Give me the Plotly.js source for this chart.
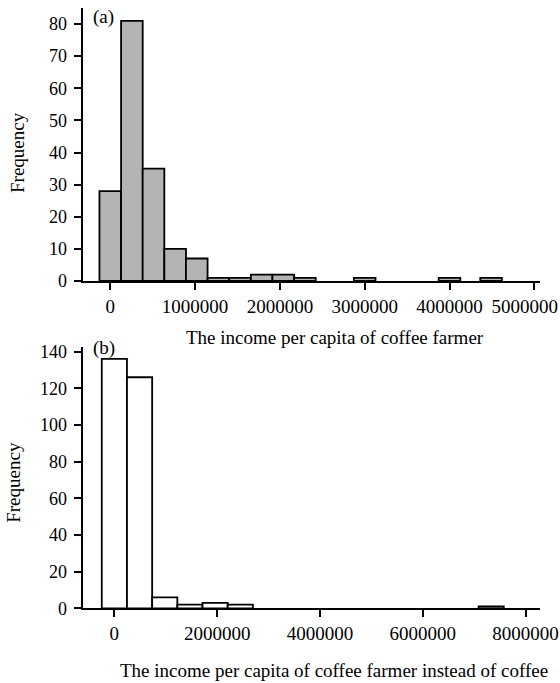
<!DOCTYPE html>
<html>
<head>
<meta charset="utf-8">
<script src="https://cdn.plot.ly/plotly-3.0.1.min.js"></script>
<style>html,body{margin:0;padding:0;background:#fff;}#chart{width:560px;height:683px;}</style>
</head>
<body>
<div id="chart"></div>
<script>
// Panel (a): income per capita of coffee farmer
const aBinCenters = [0, 255000, 510000, 765000, 1020000, 1275000, 1530000, 1785000, 2040000, 2295000, 3000000, 4000000, 4490000];
const aCounts = [28, 81, 35, 10, 7, 1, 1, 2, 2, 1, 1, 1, 1];
const aTickVals = [0, 1000000, 2000000, 3000000, 4000000, 5000000];
const aTickText = ['0', '1000000', '2000000', '3000000', '4000000', '5000000'];
const aYTicks = [0, 10, 20, 30, 40, 50, 60, 70, 80];

// Panel (b): income per capita of coffee farmer instead of coffee
const bBinCenters = [0, 490000, 980000, 1470000, 1960000, 2450000, 7330000];
const bCounts = [136, 126, 6, 2, 3, 2, 1];
const bTickVals = [0, 2000000, 4000000, 6000000, 8000000];
const bTickText = ['0', '2000000', '4000000', '6000000', '8000000'];
const bYTicks = [0, 20, 40, 60, 80, 100, 120, 140];

const titleA = "The income per capita of coffee farmer";
const titleB = "The income per capita of coffee farmer instead of coffee";

const W = 560, H = 683;
const FONT = "Liberation Serif, Times New Roman, serif";
const fs = 19;
const NB = '\u00a0';

const traces = [
  {type: 'bar', x: aBinCenters, y: aCounts, width: 255000, xaxis: 'x', yaxis: 'y',
   marker: {color: '#b4b4b4', line: {color: '#000', width: 1.8}}, hoverinfo: 'x+y', showlegend: false},
  {type: 'bar', x: bBinCenters, y: bCounts, width: 490000, xaxis: 'x2', yaxis: 'y2',
   marker: {color: '#ffffff', line: {color: '#000', width: 1.8}}, hoverinfo: 'x+y', showlegend: false}
];

const axCommon = {
  showgrid: false, zeroline: false, showline: true, linecolor: '#000', linewidth: 2,
  ticks: 'outside', tickwidth: 2, tickcolor: '#000', fixedrange: true,
  ticklabeloverflow: 'allow'
};
const xAx = Object.assign({}, axCommon, {ticklen: 7, tickfont: {family: FONT, size: 19, color: '#000'}, ticklabelstandoff: 0});
const yAx = Object.assign({}, axCommon, {ticklen: 7, tickfont: {family: FONT, size: 18, color: '#000'}, ticklabelstandoff: 3});

// the last tick label of panel (a) sits a little left of its tick, so it stays inside the page
const aTickTextShown = aTickText.map((t, i) => i === aTickText.length - 1 ? t + NB.repeat(4) : t);

const xd = [82.7 / W, 540 / W];
const layout = {
  width: W, height: H,
  margin: {l: 0, r: 0, t: 0, b: 0},
  paper_bgcolor: '#fff', plot_bgcolor: '#fff',
  font: {family: FONT, size: fs, color: '#000'},
  bargap: 0,
  xaxis: Object.assign({}, xAx, {domain: xd, anchor: 'y', range: [-325000, 5067000],
    tickmode: 'array', tickvals: aTickVals, ticktext: aTickTextShown}),
  yaxis: Object.assign({}, yAx, {domain: [(H - 281) / H, (H - 8) / H], anchor: 'x', range: [0, 85],
    tickmode: 'array', tickvals: aYTicks, ticktext: aYTicks.map(String)}),
  xaxis2: Object.assign({}, xAx, {domain: xd, anchor: 'y2', range: [-616000, 8280000],
    tickmode: 'array', tickvals: bTickVals, ticktext: bTickText}),
  yaxis2: Object.assign({}, yAx, {domain: [(H - 608.3) / H, (H - 347) / H], anchor: 'x2', range: [0, 142.5],
    tickmode: 'array', tickvals: bYTicks, ticktext: bYTicks.map(String)}),
  annotations: [
    {text: '(a)', xref: 'paper', yref: 'paper', x: 103 / W, y: (H - 17) / H, xanchor: 'center', yanchor: 'middle', showarrow: false, font: {family: FONT, size: fs}},
    {text: '(b)', xref: 'paper', yref: 'paper', x: 104 / W, y: (H - 348) / H, xanchor: 'center', yanchor: 'middle', showarrow: false, font: {family: FONT, size: fs}},
    {text: titleA, xref: 'paper', yref: 'paper', x: 184 / W, y: (H - 337) / H, xanchor: 'left', yanchor: 'middle', showarrow: false, font: {family: FONT, size: fs}},
    {text: titleB, xref: 'paper', yref: 'paper', x: 118 / W, y: (H - 670) / H, xanchor: 'left', yanchor: 'middle', showarrow: false, font: {family: FONT, size: fs}},
    {text: 'Frequency', xref: 'paper', yref: 'paper', x: 17.5 / W, y: (H - 152.5) / H, xanchor: 'center', yanchor: 'middle', textangle: -90, showarrow: false, font: {family: FONT, size: fs}},
    {text: 'Frequency', xref: 'paper', yref: 'paper', x: 13.3 / W, y: (H - 482.5) / H, xanchor: 'center', yanchor: 'middle', textangle: -90, showarrow: false, font: {family: FONT, size: fs}}
  ]
};

Plotly.newPlot('chart', traces, layout, {displayModeBar: false, staticPlot: true});
</script>
</body>
</html>
